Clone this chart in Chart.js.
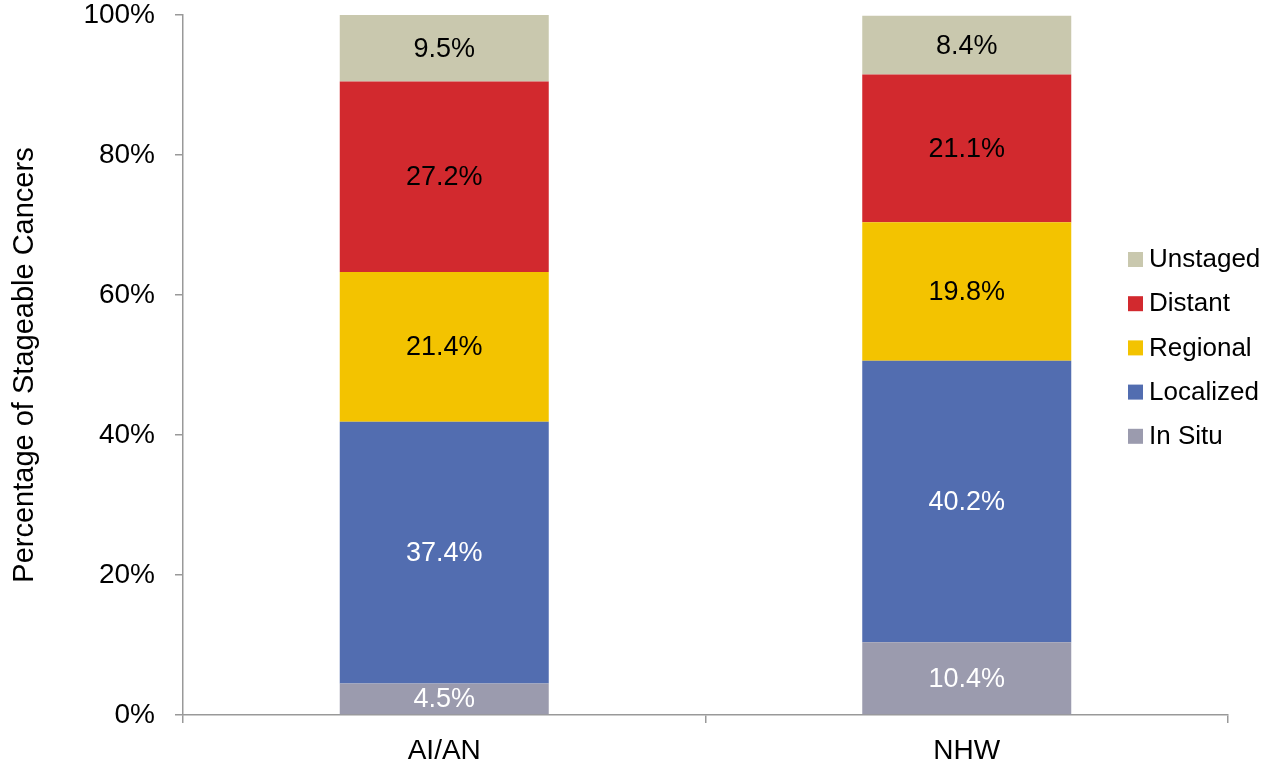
<!DOCTYPE html>
<html>
<head>
<meta charset="utf-8">
<script src="https://cdn.jsdelivr.net/npm/chart.js@4.4.1/dist/chart.umd.min.js"></script>
<style>
  html, body { margin: 0; padding: 0; background: #fff; }
  #wrap { width: 1264px; height: 766px; position: relative; }
</style>
</head>
<body>
<div id="wrap"><canvas id="myChart"></canvas></div>
<script>
// categories and stage shares (percent of stageable cancers)
var groups = ["AI/AN", "NHW"];
var inSitu = [4.5, 10.4];
var localized = [37.4, 40.2];
var regional = [21.4, 19.8];
var distant = [27.2, 21.1];
var unstaged = [9.5, 8.4];
var yTicks = [0, 20, 40, 60, 80, 100];

var FONT = "'Liberation Sans', Arial, sans-serif";

// draws the percentage inside each bar segment
var segmentLabels = {
    id: 'segmentLabels',
    afterDatasetsDraw: function(chart) {
        var ctx = chart.ctx;
        ctx.save();
        ctx.font = "27px " + FONT;
        ctx.textAlign = 'center';
        ctx.textBaseline = 'middle';
        chart.data.datasets.forEach(function(ds, i) {
            var meta = chart.getDatasetMeta(i);
            meta.data.forEach(function(bar, j) {
                var mid = (bar.y + bar.base) / 2;
                ctx.fillStyle = ds.labelColor;
                ctx.fillText(ds.data[j].toFixed(1) + '%', bar.x, mid + 1);
            });
        });
        ctx.restore();
    }
};

// legend on the right, reversed order, overlapping the plot area like the original
var sideLegend = {
    id: 'sideLegend',
    afterDraw: function(chart) {
        var ctx = chart.ctx;
        var dsets = chart.data.datasets.slice().reverse();
        ctx.save();
        ctx.font = "26px " + FONT;
        ctx.textBaseline = 'middle';
        ctx.textAlign = 'left';
        dsets.forEach(function(ds, k) {
            var y = 259 + k * 44.2;
            ctx.fillStyle = ds.backgroundColor;
            ctx.fillRect(1128, y - 7, 15, 15);
            ctx.fillStyle = '#000';
            ctx.fillText(ds.label, 1149, y + 1);
        });
        ctx.restore();
    }
};

var ctx = document.getElementById("myChart");
var myChart = new Chart(ctx, {
    type: 'bar',
    data: {
        labels: groups,
        datasets: [
            { label: "In Situ", data: inSitu, backgroundColor: "#9b9bae", labelColor: "#fff" },
            { label: "Localized", data: localized, backgroundColor: "#526db0", labelColor: "#fff" },
            { label: "Regional", data: regional, backgroundColor: "#f3c300", labelColor: "#000" },
            { label: "Distant", data: distant, backgroundColor: "#d2292e", labelColor: "#000" },
            { label: "Unstaged", data: unstaged, backgroundColor: "#c9c8ae", labelColor: "#000" }
        ]
    },
    options: {
        responsive: true,
        maintainAspectRatio: false,
        animation: false,
        categoryPercentage: 1.0,
        barPercentage: 0.4,
        layout: { padding: { top: 15, right: 36, left: 8, bottom: 0 } },
        plugins: {
            legend: { display: false },
            tooltip: { enabled: false }
        },
        scales: {
            x: {
                stacked: true,
                border: { color: '#999', width: 1.5 },
                grid: { drawOnChartArea: false, drawTicks: true, tickLength: 8, color: '#999', lineWidth: 1.5, offset: true },
                ticks: { color: '#000', font: { family: FONT, size: 28 }, padding: 11 },
                afterFit: function(scale) { scale.height = 51; }
            },
            y: {
                stacked: true,
                min: 0,
                max: 100,
                afterBuildTicks: function(scale) {
                    scale.ticks = yTicks.map(function(v) { return { value: v }; });
                },
                border: { color: '#999', width: 1.5 },
                grid: { drawOnChartArea: false, drawTicks: true, tickLength: 8, color: '#999', lineWidth: 1.5 },
                ticks: {
                    color: '#000',
                    font: { family: FONT, size: 28 },
                    padding: 20,
                    callback: function(v) { return v + '%'; }
                },
                title: {
                    display: true,
                    text: 'Percentage of Stageable Cancers',
                    color: '#000',
                    font: { family: FONT, size: 29 },
                    padding: { top: 0, bottom: 0 }
                },
                afterFit: function(scale) {
                    scale.width = 175;
                    scale.paddingTop = 0;
                    scale.paddingBottom = 0;
                }
            }
        }
    },
    plugins: [segmentLabels, sideLegend]
});
</script>
</body>
</html>
